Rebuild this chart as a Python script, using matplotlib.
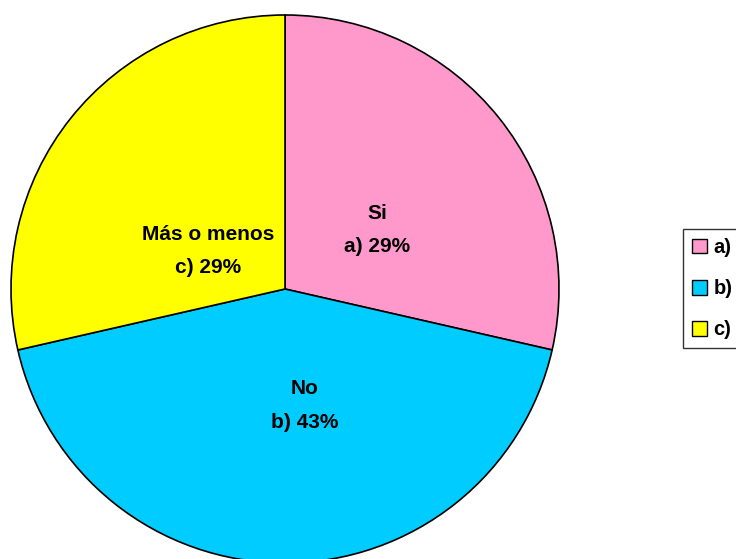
import matplotlib.pyplot as plt
from matplotlib.patches import Patch

# survey answers
categorias = ['Si', 'No', 'Más o menos']
letras = ['a)', 'b)', 'c)']
valores = [2, 3, 2]
colores = ['#FF99CC', '#00CCFF', '#FFFF00']

plt.rcParams['font.family'] = ['Liberation Sans', 'DejaVu Sans']

fig = plt.figure(figsize=(7.36, 5.59), dpi=100)
ax = fig.add_axes([11 / 736, -4 / 559, 548 / 736, 548 / 559])

wedges, _ = ax.pie(
    valores,
    colors=colores,
    startangle=90,
    counterclock=False,
    wedgeprops={'edgecolor': 'black', 'linewidth': 1.2},
)
ax.set_xlim(-1, 1)
ax.set_ylim(-1, 1)

total = sum(valores)
# label spots inside the slices (pie units)
pos = [(0.336, 0.215), (0.073, -0.425), (-0.281, 0.14)]
for (x, y), cat, letra, v in zip(pos, categorias, letras, valores):
    ax.text(x, y, f'{cat}\n{letra} {v / total * 100:.0f}%',
            ha='center', va='center', fontsize=15, fontweight='bold',
            linespacing=1.95)

handles = [Patch(facecolor=c, edgecolor='black', linewidth=1) for c in colores]
leg = fig.legend(
    handles, letras,
    loc='upper left',
    bbox_to_anchor=(683 / 736, 1 - 229 / 559),
    frameon=True,
    fancybox=False,
    prop={'weight': 'bold', 'size': 14.5},
    handlelength=0.75,
    handleheight=0.75,
    handletextpad=0.3,
    labelspacing=1.1,
    borderpad=0.45,
    borderaxespad=0,
)
leg.get_frame().set_edgecolor('black')
leg.get_frame().set_linewidth(1)

plt.savefig('out.png', dpi=100)
